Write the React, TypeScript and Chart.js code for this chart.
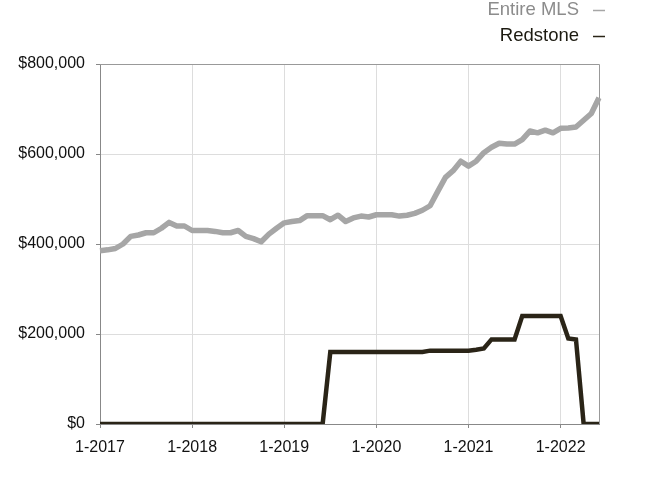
import React, { useEffect, useRef } from "react";
import { Chart, registerables } from "chart.js";

Chart.register(...registerables);

const years = [2017, 2018, 2019, 2020, 2021, 2022];
const lastMonth2022 = 6;
const monthLabels: string[] = [];
years.forEach((y) => {
  const end = y === 2022 ? lastMonth2022 : 12;
  for (let m = 1; m <= end; m++) monthLabels.push(`${m}-${y}`);
});

const entireMLS = [
  385000, 387000, 390000, 400000, 417000, 420000, 425000, 425000, 435000, 448000, 440000, 440000,
  430000, 430000, 430000, 428000, 425000, 425000, 430000, 417000, 412000, 405000, 422000, 435000,
  447000, 450000, 452000, 463000, 463000, 463000, 454000, 464000, 450000, 458000, 462000, 460000,
  465000, 465000, 465000, 462000, 464000, 468000, 475000, 485000, 517000, 548000, 563000, 584000,
  573000, 584000, 603000, 615000, 624000, 622000, 622000, 632000, 651000, 647000, 653000, 647000,
  657000, 658000, 660000, 675000, 690000, 725000,
];

const redstone = [
  0, 0, 0, 0, 0, 0, 0, 0, 0, 0, 0, 0,
  0, 0, 0, 0, 0, 0, 0, 0, 0, 0, 0, 0,
  0, 0, 0, 0, 0, 0, 160000, 160000, 160000, 160000, 160000, 160000,
  160000, 160000, 160000, 160000, 160000, 160000, 160000, 163000, 163000, 163000, 163000, 163000,
  163000, 165000, 168000, 188000, 188000, 188000, 188000, 240000, 240000, 240000, 240000, 240000,
  240000, 190000, 188000, 0, 0, 0,
];

const yTicks = [0, 200000, 400000, 600000, 800000];

const seriesNames = ["Entire MLS", "Redstone"];
const seriesColors = ["#a6a6a6", "#2a2417"];
const legendTextColors = ["#8c8c8c", "#1c1a10"];

const FONT = "'Liberation Sans', Arial, Helvetica, sans-serif";

const framePlugin = {
  id: "frameAndLegend",
  beforeDatasetsDraw(chart: any) {
    const { ctx, chartArea } = chart;
    ctx.save();
    ctx.strokeStyle = "#999999";
    ctx.lineWidth = 1;
    ctx.beginPath();
    ctx.moveTo(chartArea.left, chartArea.top + 0.5);
    ctx.lineTo(chartArea.right + 0.5, chartArea.top + 0.5);
    ctx.lineTo(chartArea.right + 0.5, chartArea.bottom);
    ctx.stroke();
    ctx.restore();
  },
  afterDraw(chart: any) {
    const { ctx } = chart;
    ctx.save();
    ctx.font = `18.5px ${FONT}`;
    ctx.textAlign = "right";
    ctx.textBaseline = "middle";
    const rows = [10, 36];
    seriesNames.forEach((name, i) => {
      ctx.fillStyle = legendTextColors[i];
      ctx.fillText(name, 579, rows[i]);
      ctx.strokeStyle = seriesColors[i];
      ctx.lineWidth = 1.5;
      ctx.beginPath();
      ctx.moveTo(593, rows[i] + 0.5);
      ctx.lineTo(605, rows[i] + 0.5);
      ctx.stroke();
    });
    ctx.restore();
  },
};

export default function App() {
  const ref = useRef<HTMLCanvasElement | null>(null);
  useEffect(() => {
    if (!ref.current) return;
    const chart = new Chart(ref.current, {
      type: "line",
      data: {
        labels: monthLabels,
        datasets: [
          {
            label: seriesNames[0],
            data: entireMLS,
            borderColor: seriesColors[0],
            backgroundColor: seriesColors[0],
            borderWidth: 5.5,
            pointRadius: 0,
            tension: 0,
            borderJoinStyle: "round",
          },
          {
            label: seriesNames[1],
            data: redstone,
            borderColor: seriesColors[1],
            backgroundColor: seriesColors[1],
            borderWidth: 4.5,
            pointRadius: 0,
            tension: 0,
            borderJoinStyle: "miter",
          },
        ],
      },
      options: {
        responsive: false,
        animation: false,
        layout: { padding: { top: 64, right: 53, bottom: 0, left: 0 } },
        plugins: { legend: { display: false }, tooltip: { enabled: false } },
        scales: {
          x: {
            type: "category",
            offset: false,
            border: { color: "#888888", width: 1 },
            grid: {
              color: (c: any) => (c.index % 12 === 0 && c.index > 0 ? "#dddddd" : "rgba(0,0,0,0)"),
              tickColor: (c: any) => (c.index % 12 === 0 ? "#888888" : "rgba(0,0,0,0)"),
              tickLength: 4,
              lineWidth: 1,
            },
            ticks: {
              autoSkip: false,
              maxRotation: 0,
              minRotation: 0,
              padding: 10,
              color: "#111111",
              font: { family: FONT, size: 16 },
              callback: (_v: any, i: number) => (i % 12 === 0 ? monthLabels[i] : ""),
            },
            afterFit: (scale: any) => {
              scale.height = 64;
            },
          },
          y: {
            min: 0,
            max: 800000,
            border: { color: "#888888", width: 1 },
            grid: {
              color: (c: any) => (c.index === 0 ? "rgba(0,0,0,0)" : "#dddddd"),
              tickColor: "#888888",
              tickLength: 4,
            },
            afterBuildTicks: (scale: any) => {
              scale.ticks = yTicks.map((v) => ({ value: v }));
            },
            ticks: {
              padding: 11,
              color: "#111111",
              font: { family: FONT, size: 16 },
              callback: (v: any) => "$" + Number(v).toLocaleString("en-US"),
            },
            afterFit: (scale: any) => {
              scale.width = 100;
            },
          },
        },
      },
      plugins: [framePlugin],
    });
    return () => chart.destroy();
  }, []);
  return (
    <div style={{ position: "fixed", left: 0, top: 0, width: 652, height: 488, background: "#fff" }}>
      <canvas ref={ref} width={652} height={488} style={{ display: "block" }} />
    </div>
  );
}
